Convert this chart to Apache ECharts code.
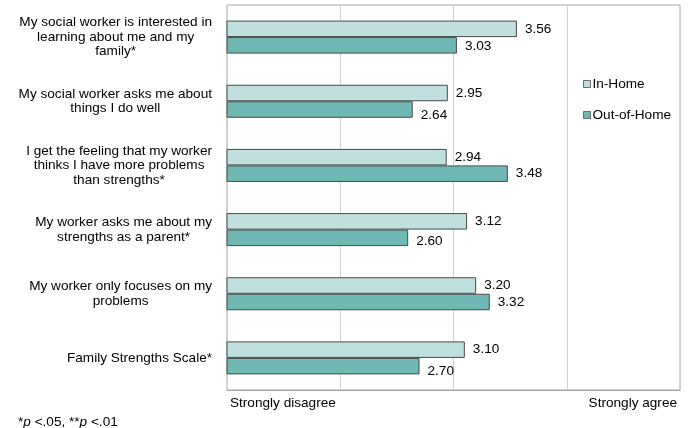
<!DOCTYPE html>
<html>
<head>
<meta charset="utf-8">
<script src="https://cdn.jsdelivr.net/npm/echarts@6/dist/echarts.min.js"></script>
<style>
  html, body { margin: 0; padding: 0; background: #fff; }
  #chart { width: 691px; height: 428px; }
</style>
</head>
<body>
<div id="chart"></div>
<script>
// Survey items (top to bottom)
const categories = [
  'My social worker is interested in\nlearning about me and my\nfamily*',
  'My social worker asks me about\nthings I do well',
  'I get the feeling that my worker\nthinks I have more problems\nthan strengths*',
  'My worker asks me about my\nstrengths as a parent*',
  'My worker only focuses on my\nproblems',
  'Family Strengths Scale*'
];

// Mean ratings per group
const inHome = [3.56, 2.95, 2.94, 3.12, 3.20, 3.10];
const outOfHome = [3.03, 2.64, 3.48, 2.60, 3.32, 2.70];

// Scale endpoints shown under the value axis (values 1..5)
const scaleLabels = ['Strongly disagree', '', '', '', 'Strongly agree'];

// Vertical nudge (px) of the Out-of-Home value labels, to keep them clear of the bars above
const outLabelNudge = [1, 6, 0, 3.5, 0, 5];

const FONT = '"Liberation Sans", Arial, sans-serif';
const FS = 13.6;

const chart = echarts.init(document.getElementById('chart'), null, { renderer: 'canvas' });

const barLabel = {
  show: true,
  position: 'right',
  distance: 8,
  color: '#000',
  fontSize: FS,
  fontFamily: FONT,
  formatter: p => p.value.toFixed(2)
};

chart.setOption({
  animation: false,
  textStyle: { fontFamily: FONT },
  grid: {
    left: 227, right: 11, top: 5, bottom: 38,
    show: true, borderColor: '#a6a6a6', borderWidth: 1
  },
  legend: {
    orient: 'vertical',
    left: 578,
    top: 72,
    itemWidth: 7,
    itemHeight: 7,
    itemGap: 17,
    icon: 'rect',
    itemStyle: { borderColor: '#6a6a6a', borderWidth: 1 },
    textStyle: { fontSize: FS, color: '#000', fontFamily: FONT, padding: [0, 0, 0, -3] },
    data: ['In-Home', 'Out-of-Home']
  },
  xAxis: {
    type: 'value',
    min: 1,
    max: 5,
    interval: 1,
    axisLine: { show: true, lineStyle: { color: '#a6a6a6' } },
    axisTick: { show: false },
    splitLine: { show: true, lineStyle: { color: '#d0d0d0' } },
    axisLabel: {
      margin: 6,
      fontSize: FS,
      color: '#000',
      fontFamily: FONT,
      alignMinLabel: 'left',
      alignMaxLabel: 'right',
      padding: [0, 3, 0, 3],
      formatter: v => scaleLabels[Math.round(v) - 1] || ''
    }
  },
  yAxis: {
    type: 'category',
    inverse: true,
    data: categories,
    axisLine: { show: false },
    axisTick: { show: false },
    axisLabel: {
      margin: 15,
      color: '#000',
      fontSize: FS,
      fontFamily: FONT,
      lineHeight: 14.5,
      formatter: v => v.split('\n').map(l => '{c|' + l + '}').join('\n'),
      rich: {
        c: { align: 'center', fontSize: FS, lineHeight: 14.5, color: '#000', fontFamily: FONT }
      }
    }
  },
  series: [
    {
      name: 'In-Home',
      type: 'bar',
      data: inHome,
      barWidth: 16.5,
      barGap: '0%',
      itemStyle: { color: '#c0e0df', borderColor: '#4a4a4a', borderWidth: 1 },
      label: barLabel
    },
    {
      name: 'Out-of-Home',
      type: 'bar',
      data: outOfHome.map((v, i) => ({
        value: v,
        label: { offset: [0, outLabelNudge[i]] }
      })),
      barWidth: 16.5,
      barGap: '0%',
      itemStyle: { color: '#6fb8b3', borderColor: '#4a4a4a', borderWidth: 1 },
      label: barLabel
    }
  ],
  graphic: [
    {
      type: 'text',
      left: 18,
      top: 415,
      style: {
        text: '*{i|p} <.05, **{i|p} <.01',
        fontSize: FS,
        fontFamily: FONT,
        fill: '#000',
        rich: { i: { fontStyle: 'italic', fontSize: FS, fontFamily: FONT } }
      }
    }
  ]
});
</script>
</body>
</html>
